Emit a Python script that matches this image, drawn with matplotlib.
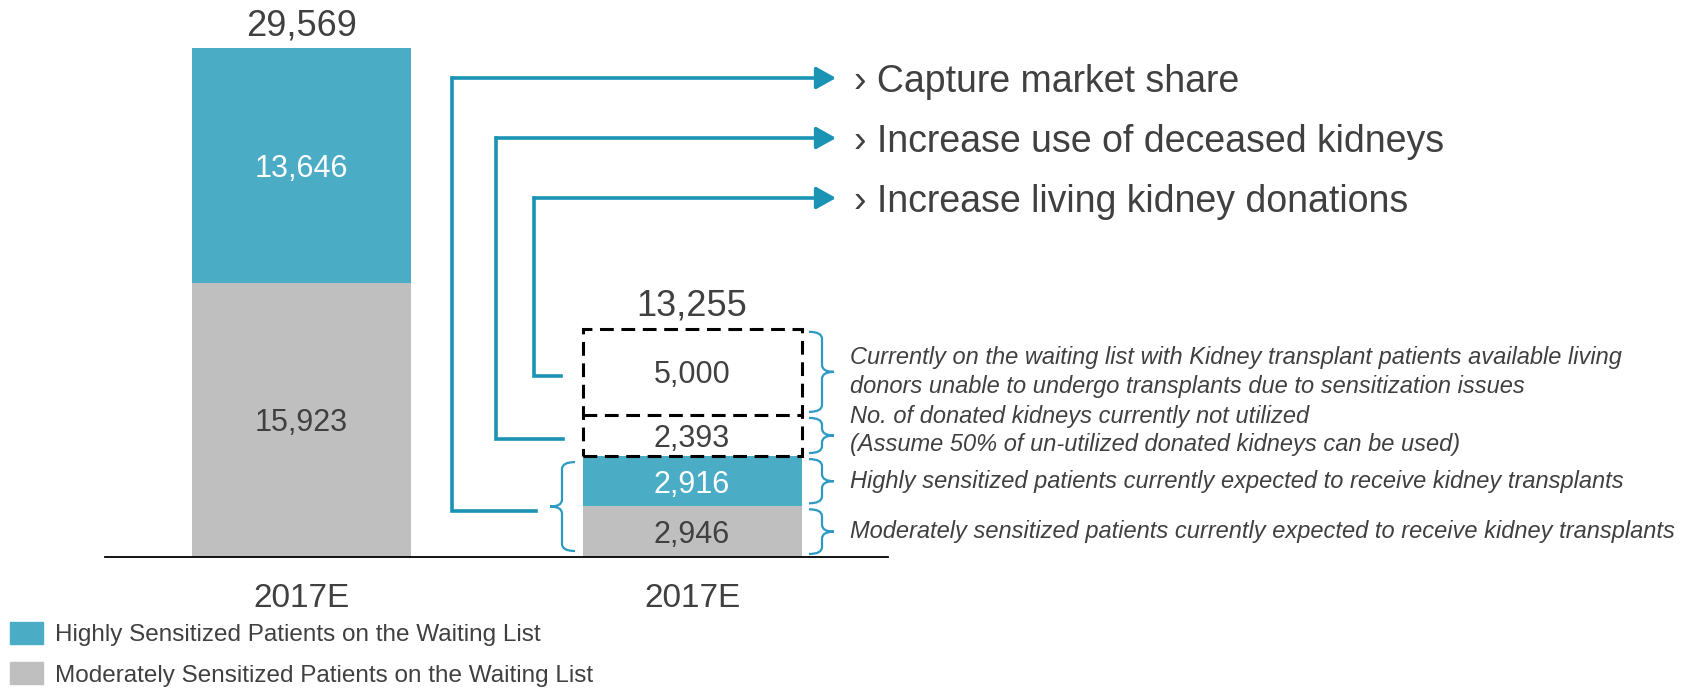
import matplotlib.pyplot as plt
from matplotlib.patches import Patch, PathPatch
from matplotlib.path import Path

plt.rcParams['font.family'] = ['Liberation Sans', 'DejaVu Sans']

# ---- data ----
categories = ['2017E', '2017E']
waitlist = [15923, 13646]                 # moderately, highly sensitized (bar 1)
expected = [2946, 2916]                   # moderately, highly expected transplants (bar 2)
opportunity = [2393, 5000]                # un-utilized donated kidneys, living donors
totals = [29569, 13255]

legend_labels = ['Highly Sensitized Patients on the Waiting List',
                 'Moderately Sensitized Patients on the Waiting List']
notes = ['Moderately sensitized patients currently expected to receive kidney transplants',
         'Highly sensitized patients currently expected to receive kidney transplants',
         'No. of donated kidneys currently not utilized\n(Assume 50% of un-utilized donated kidneys can be used)',
         'Currently on the waiting list with Kidney transplant patients available living\ndonors unable to undergo transplants due to sensitization issues']
actions = ['\u203a Capture market share',
           '\u203a Increase use of deceased kidneys',
           '\u203a Increase living kidney donations']

TEAL = '#4BACC6'
GRAY = '#BFBFBF'
LINE = '#1A93B5'
BRACE = '#2C9AC2'
TXT = '#404040'

# ---- layout: x in pixels, y in values ----
W, H = 1702, 688
BASE = 557                 # baseline row (pixels from top)
U = 29569 / 509            # value units per pixel


def yv(py):
    return (BASE - py) * U


fig = plt.figure(figsize=(W / 100, H / 100), dpi=100)
ax = fig.add_axes([0, 0, 1, 1])
ax.set_xlim(0, W)
ax.set_ylim(yv(H), yv(0))
ax.axis('off')

xpos = [301.5, 692]
bw = 219
VA = 'center_baseline'

# bar 1
ax.bar(xpos[0], waitlist[0], bw, color=GRAY)
ax.bar(xpos[0], waitlist[1], bw, bottom=waitlist[0], color=TEAL)
ax.text(xpos[0], waitlist[0] / 2, f'{waitlist[0]:,}', ha='center', va=VA, fontsize=22, color=TXT)
ax.text(xpos[0], waitlist[0] + waitlist[1] / 2, f'{waitlist[1]:,}', ha='center', va=VA, fontsize=22, color='white')

# bar 2 - solid part
ax.bar(xpos[1], expected[0], bw, color=GRAY)
ax.bar(xpos[1], expected[1], bw, bottom=expected[0], color=TEAL)
ax.text(xpos[1], expected[0] / 2, f'{expected[0]:,}', ha='center', va=VA, fontsize=22, color=TXT)
ax.text(xpos[1], expected[0] + expected[1] / 2, f'{expected[1]:,}', ha='center', va=VA, fontsize=22, color='white')

# bar 2 - dashed part (outer box + divider)
dash = (0, (4.5, 2.5))
b0 = sum(expected)
ax.bar(xpos[1], sum(opportunity), bw, bottom=b0, fill=False, edgecolor='black',
       linewidth=2.2, linestyle=dash)
ax.plot([xpos[1] - bw / 2, xpos[1] + bw / 2], [b0 + opportunity[0]] * 2, color='black',
        lw=2.2, linestyle=dash)
mids = [expected[0] / 2, expected[0] + expected[1] / 2]
b = b0
for v in opportunity:
    ax.text(xpos[1], b + v / 2, f'{v:,}', ha='center', va=VA, fontsize=22, color=TXT)
    mids.append(b + v / 2)
    b += v

# totals
for x, t in zip(xpos, totals):
    ax.annotate(f'{t:,}', (x, t), xytext=(0, 19), textcoords='offset points',
                ha='center', va=VA, fontsize=26, color=TXT)

# category labels
for x, c in zip(xpos, categories):
    ax.text(x, yv(595), c, ha='center', va=VA, fontsize=24, color=TXT)

# baseline
ax.plot([105, 888], [0, 0], color='black', lw=1.3)


def brace(x_end, x_line, x_tip, lo, hi, inset=3, r=7):
    top, bot = hi - inset * U, lo + inset * U
    mid = (top + bot) / 2
    rr = r * U
    verts = [(x_end, top), (x_line, top), (x_line, top - rr), (x_line, mid + rr),
             (x_line, mid), (x_tip, mid), (x_line, mid), (x_line, mid - rr),
             (x_line, bot + rr), (x_line, bot), (x_end, bot)]
    codes = [Path.MOVETO, Path.CURVE3, Path.CURVE3, Path.LINETO,
             Path.CURVE3, Path.CURVE3, Path.CURVE3, Path.CURVE3,
             Path.LINETO, Path.CURVE3, Path.CURVE3]
    ax.add_patch(PathPatch(Path(verts, codes), fill=False, edgecolor=BRACE, lw=1.6))
    return mid


# right braces + notes
edges = [0, expected[0], sum(expected), sum(expected) + opportunity[0], totals[1]]
note_dy = [0, 0, 5, 0]     # small vertical nudges, pixels
for i, note in enumerate(notes):
    m = brace(809, 822, 834, edges[i], edges[i + 1])
    ax.text(850, m + note_dy[i] * U, note, ha='left', va='center', fontsize=17,
            style='italic', color=TXT, linespacing=1.3)

# left brace around expected transplants
m0 = brace(575, 562, 550, 0, sum(expected), inset=6)

# routing arrows
routes = [(536, m0, 452, 78), (563, mids[2], 496, 138), (561, mids[3], 534, 198)]
for (xs, ys, xv, ypx), label in zip(routes, actions):
    yt = yv(ypx)
    ys = ys - 4 * U
    ax.plot([xs, xv, xv], [ys, ys, yt], color=LINE, lw=2.6,
            solid_joinstyle='miter', solid_capstyle='projecting')
    ax.annotate('', xy=(836, yt), xytext=(xv, yt),
                arrowprops=dict(arrowstyle='-|>,head_length=0.8,head_width=0.45',
                                color=LINE, lw=2.6, shrinkA=0, shrinkB=0,
                                mutation_scale=15))
    ax.text(854, yt, label, ha='left', va=VA, fontsize=27, color=TXT)

# legend
handles = [Patch(color=TEAL), Patch(color=GRAY)]
leg = fig.legend(handles, legend_labels, loc='upper left', bbox_to_anchor=(10 / W, 1 - 622 / H),
                 frameon=False, fontsize=17.5, handlelength=1.34, handleheight=1.0,
                 handletextpad=0.5, labelspacing=0.67, borderaxespad=0, borderpad=0)
for t in leg.get_texts():
    t.set_color(TXT)

fig.savefig('out.png', dpi=100)
